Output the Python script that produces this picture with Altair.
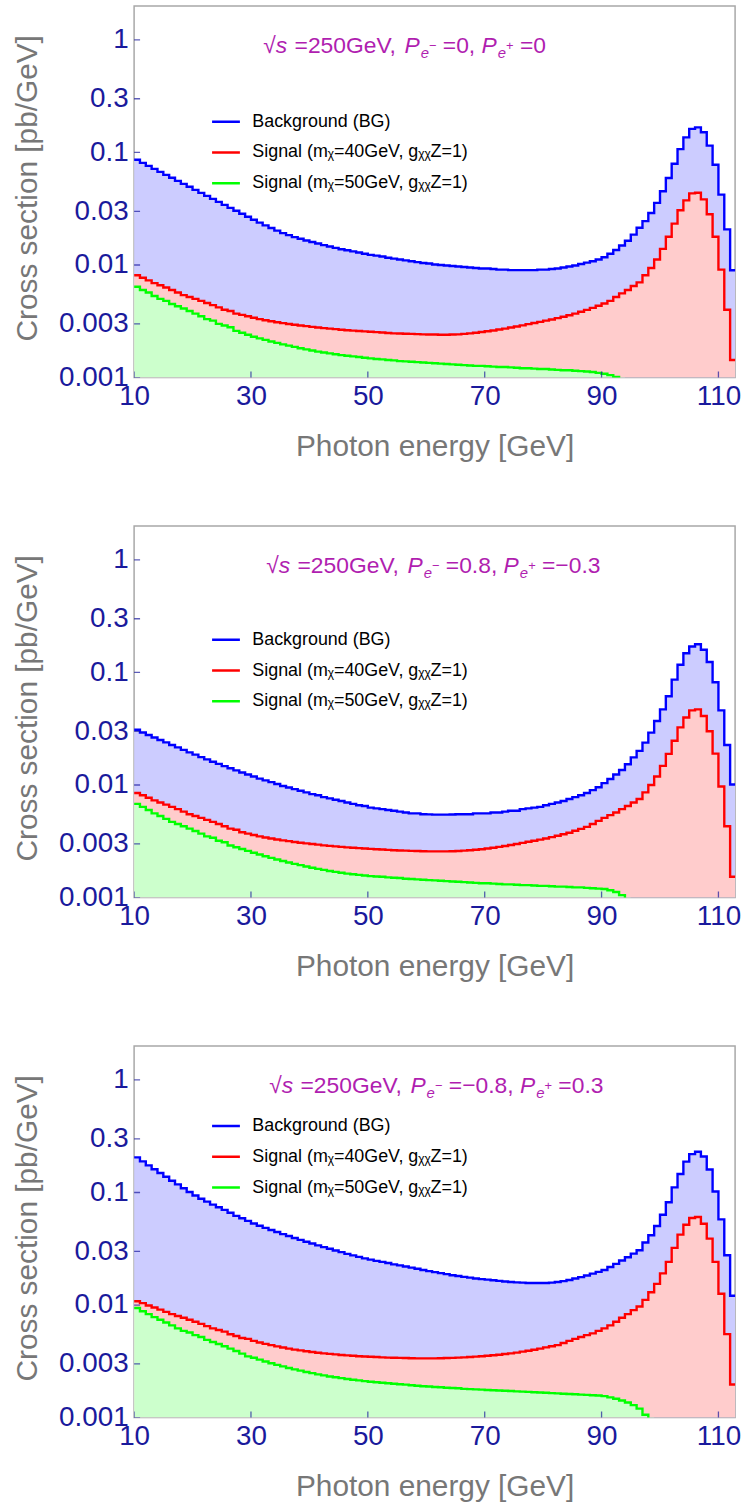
import altair as alt
import pandas as pd

# ---------------- data (bins are 1 GeV wide, first bin starts at 10 GeV) ----------------
X0 = 10

bg_1 = [0.0860, 0.0808, 0.0760, 0.0715, 0.0672, 0.0632, 0.0595, 0.0559, 0.0526, 0.0495,
        0.0465, 0.0437, 0.0411, 0.0387, 0.0364, 0.0342, 0.0322, 0.0303, 0.0285, 0.0268,
        0.0252, 0.0238, 0.0225, 0.0213, 0.0202, 0.0192, 0.0184, 0.0177, 0.0171, 0.0165,
        0.0160, 0.0155, 0.0150, 0.0146, 0.0142, 0.0138, 0.0135, 0.0132, 0.0129, 0.0126,
        0.0123, 0.0121, 0.0119, 0.0116, 0.0114, 0.0112, 0.0110, 0.0108, 0.0106, 0.0104,
        0.0103, 0.0101, 0.0100, 0.0099, 0.0098, 0.0097, 0.0096, 0.0095, 0.0094, 0.0093,
        0.0093, 0.0092, 0.0091, 0.0091, 0.0090, 0.0090, 0.0090, 0.0090, 0.0090, 0.0091,
        0.0091, 0.0092, 0.0093, 0.0095, 0.0097, 0.0099, 0.0102, 0.0105, 0.0108, 0.0112,
        0.0117, 0.0126, 0.0136, 0.0149, 0.0164, 0.0186, 0.0214, 0.0245, 0.0290, 0.0356,
        0.0452, 0.0593, 0.0794, 0.107, 0.136, 0.162, 0.167, 0.151, 0.115, 0.0778,
        0.0422, 0.0207, 0.00897]
s40_1 = [0.0081, 0.0077, 0.0073, 0.0069, 0.0066, 0.0063, 0.0060, 0.0057, 0.0054, 0.0052,
         0.0050, 0.0048, 0.0046, 0.0044, 0.0042, 0.0040, 0.0039, 0.0037, 0.0036, 0.0035,
         0.0034, 0.0033, 0.00323, 0.00316, 0.00310, 0.00304, 0.00299, 0.00294, 0.00290, 0.00286,
         0.00282, 0.00278, 0.00275, 0.00272, 0.00269, 0.00266, 0.00263, 0.00261, 0.00259, 0.00257,
         0.00255, 0.00253, 0.00251, 0.00249, 0.00247, 0.00246, 0.00245, 0.00244, 0.00243, 0.00242,
         0.00241, 0.00241, 0.00240, 0.00240, 0.00241, 0.00242, 0.00244, 0.00247, 0.00250, 0.00254,
         0.00258, 0.00262, 0.00267, 0.00272, 0.00278, 0.00284, 0.00291, 0.00298, 0.00305, 0.00312,
         0.00320, 0.00328, 0.00337, 0.00347, 0.00358, 0.00370, 0.00384, 0.00399, 0.00416, 0.00434,
         0.00455, 0.0048, 0.0052, 0.0056, 0.0060, 0.0065, 0.0070, 0.0081, 0.0094, 0.0112,
         0.0139, 0.0178, 0.0233, 0.0306, 0.0375, 0.0433, 0.0438, 0.0383, 0.0282, 0.0178,
         0.0091, 0.0040, 0.00143]
s50_1 = [0.0064, 0.0060, 0.0057, 0.0053, 0.0050, 0.0048, 0.0045, 0.0043, 0.0041, 0.0039,
         0.0037, 0.0035, 0.0033, 0.0032, 0.0030, 0.0029, 0.0028, 0.0026, 0.0025, 0.0024,
         0.0023, 0.00223, 0.00216, 0.00209, 0.00203, 0.00197, 0.00192, 0.00187, 0.00182, 0.00178,
         0.00174, 0.00170, 0.00167, 0.00164, 0.00161, 0.00158, 0.00156, 0.00154, 0.00152, 0.00150,
         0.00148, 0.00146, 0.00145, 0.00143, 0.00142, 0.00140, 0.00139, 0.00138, 0.00137, 0.00136,
         0.00135, 0.00134, 0.00133, 0.00132, 0.00131, 0.00130, 0.00129, 0.00128, 0.00127, 0.00127,
         0.00126, 0.00125, 0.00124, 0.00124, 0.00123, 0.00122, 0.00121, 0.00121, 0.00120, 0.00119,
         0.00119, 0.00118, 0.00117, 0.00116, 0.00116, 0.00115, 0.00114, 0.00113, 0.00112, 0.00110,
         0.00108, 0.00105, 0.00101, 0.0009]

bg_2 = [0.0310, 0.0293, 0.0278, 0.0264, 0.0251, 0.0239, 0.0227, 0.0216, 0.0205, 0.0195,
        0.0186, 0.0177, 0.0169, 0.0161, 0.0154, 0.0147, 0.0141, 0.0135, 0.0129, 0.0124,
        0.0119, 0.0114, 0.0110, 0.0106, 0.0102, 0.0098, 0.0095, 0.0092, 0.0089, 0.0086,
        0.0083, 0.0081, 0.0078, 0.0076, 0.0074, 0.0072, 0.0070, 0.0068, 0.0066, 0.0065,
        0.0063, 0.0062, 0.0061, 0.0060, 0.0059, 0.0058, 0.0057, 0.0056, 0.0056, 0.0055,
        0.00548, 0.00546, 0.00545, 0.00545, 0.00547, 0.0055, 0.0055, 0.0055, 0.0056, 0.0056,
        0.0056, 0.0057, 0.0057, 0.0058, 0.0059, 0.0059, 0.0061, 0.0062, 0.0063, 0.0064,
        0.0066, 0.0068, 0.0070, 0.0072, 0.0075, 0.0078, 0.0081, 0.0085, 0.0090, 0.00955,
        0.0104, 0.0113, 0.0124, 0.0136, 0.0153, 0.0176, 0.0201, 0.0238, 0.0292, 0.0370,
        0.0470, 0.0615, 0.0863, 0.117, 0.148, 0.170, 0.178, 0.159, 0.124, 0.0818,
        0.0460, 0.0227, 0.0101]
s40_2 = [0.0085, 0.0081, 0.0077, 0.0073, 0.0070, 0.0067, 0.0064, 0.0061, 0.0058, 0.0055,
         0.0053, 0.0051, 0.0049, 0.0047, 0.0045, 0.0043, 0.0041, 0.0040, 0.0038, 0.0037,
         0.0036, 0.0035, 0.00342, 0.00335, 0.00328, 0.00322, 0.00317, 0.00312, 0.00307, 0.00303,
         0.00299, 0.00295, 0.00291, 0.00288, 0.00285, 0.00282, 0.00279, 0.00277, 0.00275, 0.00273,
         0.00271, 0.00269, 0.00267, 0.00265, 0.00263, 0.00262, 0.00261, 0.00260, 0.00259, 0.00258,
         0.00257, 0.00257, 0.00257, 0.00257, 0.00258, 0.00259, 0.00261, 0.00263, 0.00266, 0.00269,
         0.00273, 0.00277, 0.00282, 0.00287, 0.00293, 0.00299, 0.00306, 0.00313, 0.00320, 0.00327,
         0.00335, 0.00344, 0.00354, 0.00365, 0.00377, 0.00392, 0.00408, 0.00425, 0.0045, 0.0048,
         0.0051, 0.0054, 0.0057, 0.0061, 0.0065, 0.0070, 0.0075, 0.0086, 0.0100, 0.0119,
         0.0148, 0.0189, 0.0247, 0.0325, 0.0398, 0.0460, 0.0470, 0.0410, 0.0300, 0.0190,
         0.0097, 0.0043, 0.00153]
s50_2 = [0.0068, 0.0064, 0.0060, 0.0056, 0.0053, 0.0050, 0.0047, 0.0045, 0.0043, 0.0041,
         0.0039, 0.0037, 0.0035, 0.0034, 0.0032, 0.0031, 0.0029, 0.0028, 0.0027, 0.0026,
         0.0025, 0.00241, 0.00233, 0.00225, 0.00218, 0.00211, 0.00205, 0.00199, 0.00194, 0.00189,
         0.00184, 0.00180, 0.00176, 0.00172, 0.00169, 0.00166, 0.00163, 0.00161, 0.00159, 0.00157,
         0.00155, 0.00154, 0.00153, 0.00151, 0.00150, 0.00149, 0.00147, 0.00146, 0.00145, 0.00144,
         0.00143, 0.00142, 0.00141, 0.00140, 0.00139, 0.00138, 0.00137, 0.00136, 0.00135, 0.00134,
         0.00134, 0.00133, 0.00132, 0.00131, 0.00131, 0.00130, 0.00129, 0.00129, 0.00128, 0.00127,
         0.00127, 0.00126, 0.00125, 0.00125, 0.00124, 0.00123, 0.00123, 0.00122, 0.00121, 0.00120,
         0.00119, 0.00116, 0.00112, 0.00105, 0.0009]

bg_3 = [0.205, 0.189, 0.174, 0.161, 0.149, 0.138, 0.127, 0.118, 0.109, 0.101,
        0.094, 0.088, 0.083, 0.078, 0.074, 0.070, 0.066, 0.062, 0.059, 0.056,
        0.053, 0.0507, 0.0485, 0.0464, 0.0445, 0.0427, 0.0410, 0.0394, 0.0379, 0.0365,
        0.0352, 0.0339, 0.0327, 0.0316, 0.0305, 0.0295, 0.0285, 0.0276, 0.0268, 0.0260,
        0.0253, 0.0247, 0.0242, 0.0236, 0.0230, 0.0225, 0.0220, 0.0215, 0.0210, 0.0205,
        0.0200, 0.0196, 0.0192, 0.0188, 0.0184, 0.0181, 0.0178, 0.0175, 0.0172, 0.0170,
        0.0168, 0.0166, 0.0164, 0.0162, 0.0160, 0.0159, 0.0158, 0.0157, 0.0157, 0.0157,
        0.0157, 0.0158, 0.0160, 0.0163, 0.0167, 0.0172, 0.0177, 0.0183, 0.0190, 0.0197,
        0.0205, 0.0218, 0.0232, 0.0249, 0.0266, 0.0286, 0.0307, 0.0359, 0.0417, 0.0504,
        0.0634, 0.082, 0.111, 0.146, 0.188, 0.219, 0.230, 0.209, 0.160, 0.102,
        0.0577, 0.0277, 0.0121]
s40_3 = [0.0108, 0.0104, 0.0099, 0.0095, 0.0091, 0.0087, 0.0083, 0.0080, 0.0077, 0.0074,
         0.0071, 0.0068, 0.0065, 0.0062, 0.0060, 0.0058, 0.0055, 0.0053, 0.0051, 0.0050,
         0.0048, 0.00465, 0.00452, 0.0044, 0.00429, 0.00419, 0.0041, 0.00402, 0.00395, 0.00388,
         0.00382, 0.00377, 0.00372, 0.00368, 0.00364, 0.0036, 0.00357, 0.00354, 0.00351, 0.00349,
         0.00347, 0.00345, 0.00343, 0.00341, 0.0034, 0.00339, 0.00338, 0.00337, 0.00336, 0.00336,
         0.00336, 0.00336, 0.00337, 0.00338, 0.00339, 0.00341, 0.00343, 0.00345, 0.00348, 0.00351,
         0.00354, 0.00358, 0.00362, 0.00367, 0.00372, 0.00378, 0.00385, 0.00392, 0.0040, 0.0041,
         0.0042, 0.0043, 0.0044, 0.0046, 0.0048, 0.0050, 0.0052, 0.0054, 0.0056, 0.0059,
         0.0062, 0.0066, 0.0071, 0.0077, 0.0083, 0.0090, 0.0097, 0.0111, 0.0130, 0.0154,
         0.0191, 0.0242, 0.0322, 0.0422, 0.0517, 0.0593, 0.0605, 0.0528, 0.0389, 0.0242,
         0.0126, 0.00552, 0.00197]
s50_3 = [0.0094, 0.0088, 0.0083, 0.0078, 0.0074, 0.0070, 0.0066, 0.0062, 0.0059, 0.0057,
         0.0054, 0.0052, 0.0049, 0.0047, 0.0045, 0.0043, 0.0041, 0.0039, 0.0037, 0.0035,
         0.0034, 0.00327, 0.00315, 0.00304, 0.00294, 0.00285, 0.00276, 0.00268, 0.00261, 0.00254,
         0.00248, 0.00242, 0.00237, 0.00232, 0.00228, 0.00224, 0.0022, 0.00217, 0.00214, 0.00211,
         0.00208, 0.00206, 0.00204, 0.00202, 0.002, 0.00198, 0.00196, 0.00194, 0.00192, 0.0019,
         0.00189, 0.00187, 0.00186, 0.00184, 0.00183, 0.00182, 0.0018, 0.00179, 0.00178, 0.00177,
         0.00176, 0.00175, 0.00174, 0.00173, 0.00172, 0.00171, 0.0017, 0.00169, 0.00168, 0.00167,
         0.00166, 0.00165, 0.00164, 0.00163, 0.00162, 0.00161, 0.0016, 0.00159, 0.00158, 0.00157,
         0.00155, 0.00151, 0.00147, 0.00142, 0.00136, 0.00129, 0.0012, 0.00106, 0.0009]

series_names = ["Background (BG)",
                "Signal (m\u1d6a=40GeV, g\u1d6a\u1d6aZ=1)",
                "Signal (m\u1d6a=50GeV, g\u1d6a\u1d6aZ=1)"]
line_colors = ["#0000ff", "#ff0000", "#00ff00"]
fill_colors = ["#ccccff", "#ffcccc", "#ccffcc"]
# polarisations (P_e-, P_e+) shown in each panel label
pol_em = ["0", "0.8", "\u22120.8"]
pol_ep = ["0", "\u22120.3", "0.3"]
x_ticks = [10, 30, 50, 70, 90, 110]
y_ticks = [0.001, 0.003, 0.01, 0.03, 0.1, 0.3, 1]

# ---------------- styling ----------------
FONT = "Liberation Sans"
TICK_COLOR = "#1a1a9c"
TITLE_COLOR = "#b01eb0"
W, H = 605, 374

# Arial / Liberation Sans advance widths (em units) for the panel label
ADV = {"\u221a": .549, "s": .5, "=": .584, "G": .778, "e": .556, "V": .667, ",": .278,
       " ": .278, "P": .667, ".": .278, "\u2212": .584, "+": .584}


def text_width(s, size):
    return sum(ADV.get(c, .556) for c in s) * size


xscale = alt.Scale(domain=[10, 112.85], nice=False, zero=False)
yscale = alt.Scale(type="log", domain=[0.001, 2], nice=False)
xaxis = alt.Axis(values=x_ticks, title="Photon energy [GeV]", labelPadding=5,
                 titleY=69, titleBaseline="middle", labelFlush=False, labelOverlap=False)
yaxis = alt.Axis(values=y_ticks, format="~g", title="Cross section [pb/GeV]",
                 labelPadding=6, titleX=-107, titleY=183, titleBaseline="middle",
                 titleAngle=-90, titleAlign="center", labelFlush=False, labelOverlap=False)


def steps(vals, name):
    xs = [X0 + i for i in range(len(vals) + 1)]
    ys = list(vals) + [vals[-1]]
    return pd.DataFrame({"x": xs, "y": ys, "series": name})


def panel_label(em, ep, x_start, baseline):
    # (text, style, gap after in spaces)
    segs = [("\u221a", "n", 0), ("s", "i", 1), ("=250GeV,", "n", 1),
            ("P", "i", 0), ("e", "sub", 0), ("\u2212", "sup", 1), ("=" + em + ",", "n", 1),
            ("P", "i", 0), ("e", "sub", 0), ("+", "sup", 1), ("=" + ep, "n", 0)]
    sizes = {"n": 23, "i": 23, "sub": 15, "sup": 13}
    dys = {"n": 0, "i": 0, "sub": 5, "sup": -3}
    space = text_width(" ", 23)
    layers = []
    x = x_start
    for txt, st, gap in segs:
        layers.append(
            alt.Chart(pd.DataFrame({"t": [txt]}))
            .mark_text(align="left", baseline="alphabetic", font=FONT,
                       fontSize=sizes[st], fontStyle="italic" if st in ("i", "sub") else "normal",
                       color=TITLE_COLOR, dy=dys[st])
            .encode(text="t:N", x=alt.value(x), y=alt.value(baseline))
        )
        x += text_width(txt, sizes[st]) + gap * space + (1 if st == "i" else 0)
    return layers


def panel(bg, s40, s50, em, ep, title_x, legend_y):
    X = alt.X("x:Q", scale=xscale, axis=xaxis)
    Y = alt.Y("y:Q", scale=yscale, axis=yaxis)
    frames = [steps(v, n) for v, n in zip((bg, s40, s50), series_names)]
    areas = [
        alt.Chart(f).mark_area(interpolate="step-after", clip=True, color=c, opacity=1)
        .encode(x=X, y=Y, y2=alt.datum(0.001))
        for f, c in zip(frames, fill_colors)
    ]
    lines = (
        alt.Chart(pd.concat(frames, ignore_index=True))
        .mark_line(interpolate="step-after", clip=True, strokeWidth=2.4)
        .encode(
            x=X, y=Y,
            color=alt.Color(
                "series:N",
                scale=alt.Scale(domain=series_names, range=line_colors),
                legend=alt.Legend(
                    orient="none", legendX=77, legendY=legend_y, title=None,
                    symbolType="stroke", symbolSize=784, symbolStrokeWidth=2.5,
                    labelFont=FONT, labelFontSize=18, labelColor="black",
                    labelOffset=11, labelLimit=500, clipHeight=31, rowPadding=0,
                    padding=0,
                ),
            ),
        )
    )
    xt = (
        alt.Chart(pd.DataFrame({"x": x_ticks}))
        .mark_tick(orient="vertical", size=12, thickness=1.3, color=TICK_COLOR, clip=True)
        .encode(x=X, y=alt.datum(0.001))
    )
    yt = (
        alt.Chart(pd.DataFrame({"y": y_ticks}))
        .mark_tick(orient="horizontal", size=12, thickness=1.3, color=TICK_COLOR, clip=True)
        .encode(y=Y, x=alt.datum(10))
    )
    label = panel_label(em, ep, title_x, 47)
    return alt.layer(*areas, lines, xt, yt, *label).properties(width=W, height=H)


p1 = panel(bg_1, s40_1, s50_1, pol_em[0], pol_ep[0], 130, 101)
p2 = panel(bg_2, s40_2, s50_2, pol_em[1], pol_ep[1], 133, 99)
p3 = panel(bg_3, s40_3, s50_3, pol_em[2], pol_ep[2], 136, 65)

chart = (
    alt.vconcat(p1, p2, p3, spacing=149.5, bounds="flush")
    .resolve_scale(color="independent")
    .resolve_legend(color="independent")
    .properties(padding={"left": 12, "top": 0, "right": 6, "bottom": 4})
    .configure_view(stroke="#a8a8a8", strokeWidth=1.5)
    .configure_axis(
        domain=False, ticks=False, grid=False,
        labelFont=FONT, titleFont=FONT, labelFontSize=28, titleFontSize=30,
        labelColor=TICK_COLOR, titleColor="#777777", titleFontWeight="normal",
    )
)

chart.save("out.html", embed_options={"renderer": "svg", "actions": False})
